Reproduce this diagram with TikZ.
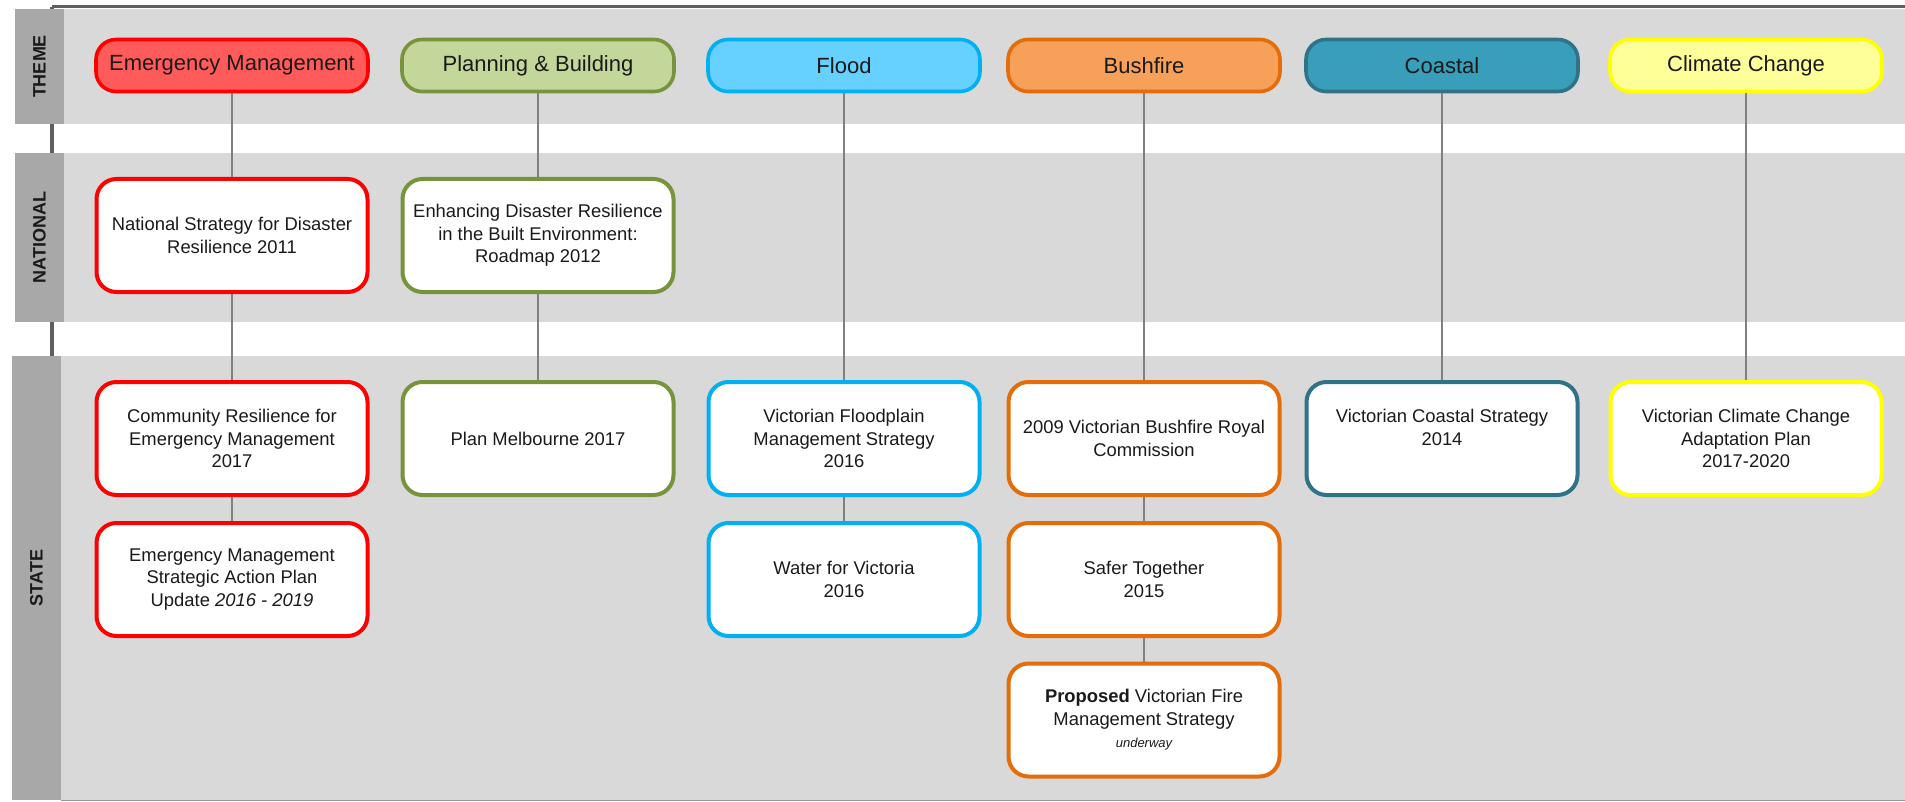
\documentclass[tikz,border=0pt]{standalone}
\usepackage{fontspec}
\setmainfont{Liberation Sans}
\definecolor{band}{HTML}{D9D9D9}
\definecolor{strip}{HTML}{A8A8A8}
\definecolor{conn}{HTML}{808080}
\definecolor{darkline}{HTML}{5F5F5F}
\definecolor{txt}{HTML}{1A1A1A}
\definecolor{emF}{HTML}{FF5B5B}\definecolor{emD}{HTML}{FF0000}
\definecolor{plF}{HTML}{C4D79B}\definecolor{plD}{HTML}{77933C}
\definecolor{flF}{HTML}{66D0FF}\definecolor{flD}{HTML}{00B0F0}
\definecolor{bfF}{HTML}{F6A05A}\definecolor{bfD}{HTML}{E46C0A}
\definecolor{coF}{HTML}{399EB9}\definecolor{coD}{HTML}{2E7387}
\definecolor{ccF}{HTML}{FFFF99}\definecolor{ccD}{HTML}{FFFF00}
\tikzset{
  bandfill/.style={fill=band, draw=none},
  stripfill/.style={fill=strip, draw=none},
  striplabel/.style={rotate=90, font=\fontsize{9}{10}\selectfont\bfseries, text=txt},
  themebox/.style 2 args={draw=#1, fill=#2, line width=1.8pt, rounded corners=10pt,
    minimum width=136pt, minimum height=26pt, inner sep=0pt,
    font=\fontsize{11}{13}\selectfont, text=txt},
  docbox/.style={draw=#1, fill=white, line width=2pt, rounded corners=10pt,
    minimum width=135.5pt, minimum height=56.5pt, inner sep=0pt, align=center,
    font=\fontsize{9.2}{11.2}\selectfont, text=txt},
  link/.style={draw=conn, line width=1.4pt},
}
\begin{document}
\begin{tikzpicture}[x=0.5pt, y=-0.5pt]
\useasboundingbox (0,0) rectangle (1905,802);
% frame lines
\draw[darkline, line width=2pt] (52,7) -- (52,360);
\draw[darkline, line width=1.5pt] (52,7) -- (1905,7);
% bands
\path[bandfill] (64,9) rectangle (1905,124);
\path[stripfill] (15,9) rectangle (64,124);
\path[bandfill] (64,153) rectangle (1905,322);
\path[stripfill] (15,153) rectangle (64,322);
\path[bandfill] (61,356) rectangle (1905,800);
\path[stripfill] (12,356) rectangle (61,800);
\draw[color=strip!90!black, line width=0.8pt] (61,800.5) -- (1905,800.5);
\node[striplabel] (lt) at (39.5,66.5) {THEME};
\node[striplabel] (ln) at (39.5,237.5) {NATIONAL};
\node[striplabel] (ls) at (36.5,578) {STATE};
% theme row
\node[themebox={emD}{emF}] (t1) at (232,65.5) {Emergency Management};
\node[themebox={plD}{plF}] (t2) at (538,65.5) {Planning \& Building};
\node[themebox={flD}{flF}] (t3) at (844,65.5) {Flood};
\node[themebox={bfD}{bfF}] (t4) at (1144,65.5) {Bushfire};
\node[themebox={coD}{coF}] (t5) at (1442,65.5) {Coastal};
\node[themebox={ccD}{ccF}] (t6) at (1746,65.5) {Climate Change};
% national row
\node[docbox=emD] (n1) at (232,235.5) {National Strategy for Disaster\\Resilience 2011};
\node[docbox=plD] (n2) at (538,235.5) {Enhancing Disaster Resilience\\in the Built Environment:\\Roadmap 2012};
% state rows
\node[docbox=emD] (s1a) at (232,438.5) {Community Resilience for\\Emergency Management\\2017};
\node[docbox=emD] (s1b) at (232,579.5) {Emergency Management\\Strategic Action Plan\\Update \textit{2016 - 2019}};
\node[docbox=plD] (s2a) at (538,438.5) {Plan Melbourne 2017};
\node[docbox=flD] (s3a) at (844,438.5) {Victorian Floodplain\\Management Strategy\\2016};
\node[docbox=flD] (s3b) at (844,579.5) {Water for Victoria\\2016};
\node[docbox=bfD] (s4a) at (1144,438.5) {2009 Victorian Bushfire Royal\\Commission};
\node[docbox=bfD] (s4b) at (1144,579.5) {Safer Together\\2015};
\node[docbox=bfD] (s4c) at (1144,720) {\textbf{Proposed} Victorian Fire\\Management Strategy\\{\fontsize{6.5}{8}\selectfont\itshape underway}};
\node[docbox=coD] (s5a) at (1442,438.5) {Victorian Coastal Strategy\\2014\\\mbox{}};
\node[docbox=ccD] (s6a) at (1746,438.5) {Victorian Climate Change\\Adaptation Plan\\2017-2020};
% connectors
\path[link] (t1) -- (n1);
\path[link] (n1) -- (s1a);
\path[link] (s1a) -- (s1b);
\path[link] (t2) -- (n2);
\path[link] (n2) -- (s2a);
\path[link] (t3) -- (s3a);
\path[link] (s3a) -- (s3b);
\path[link] (t4) -- (s4a);
\path[link] (s4a) -- (s4b);
\path[link] (s4b) -- (s4c);
\path[link] (t5) -- (s5a);
\path[link] (t6) -- (s6a);
\end{tikzpicture}
\end{document}
